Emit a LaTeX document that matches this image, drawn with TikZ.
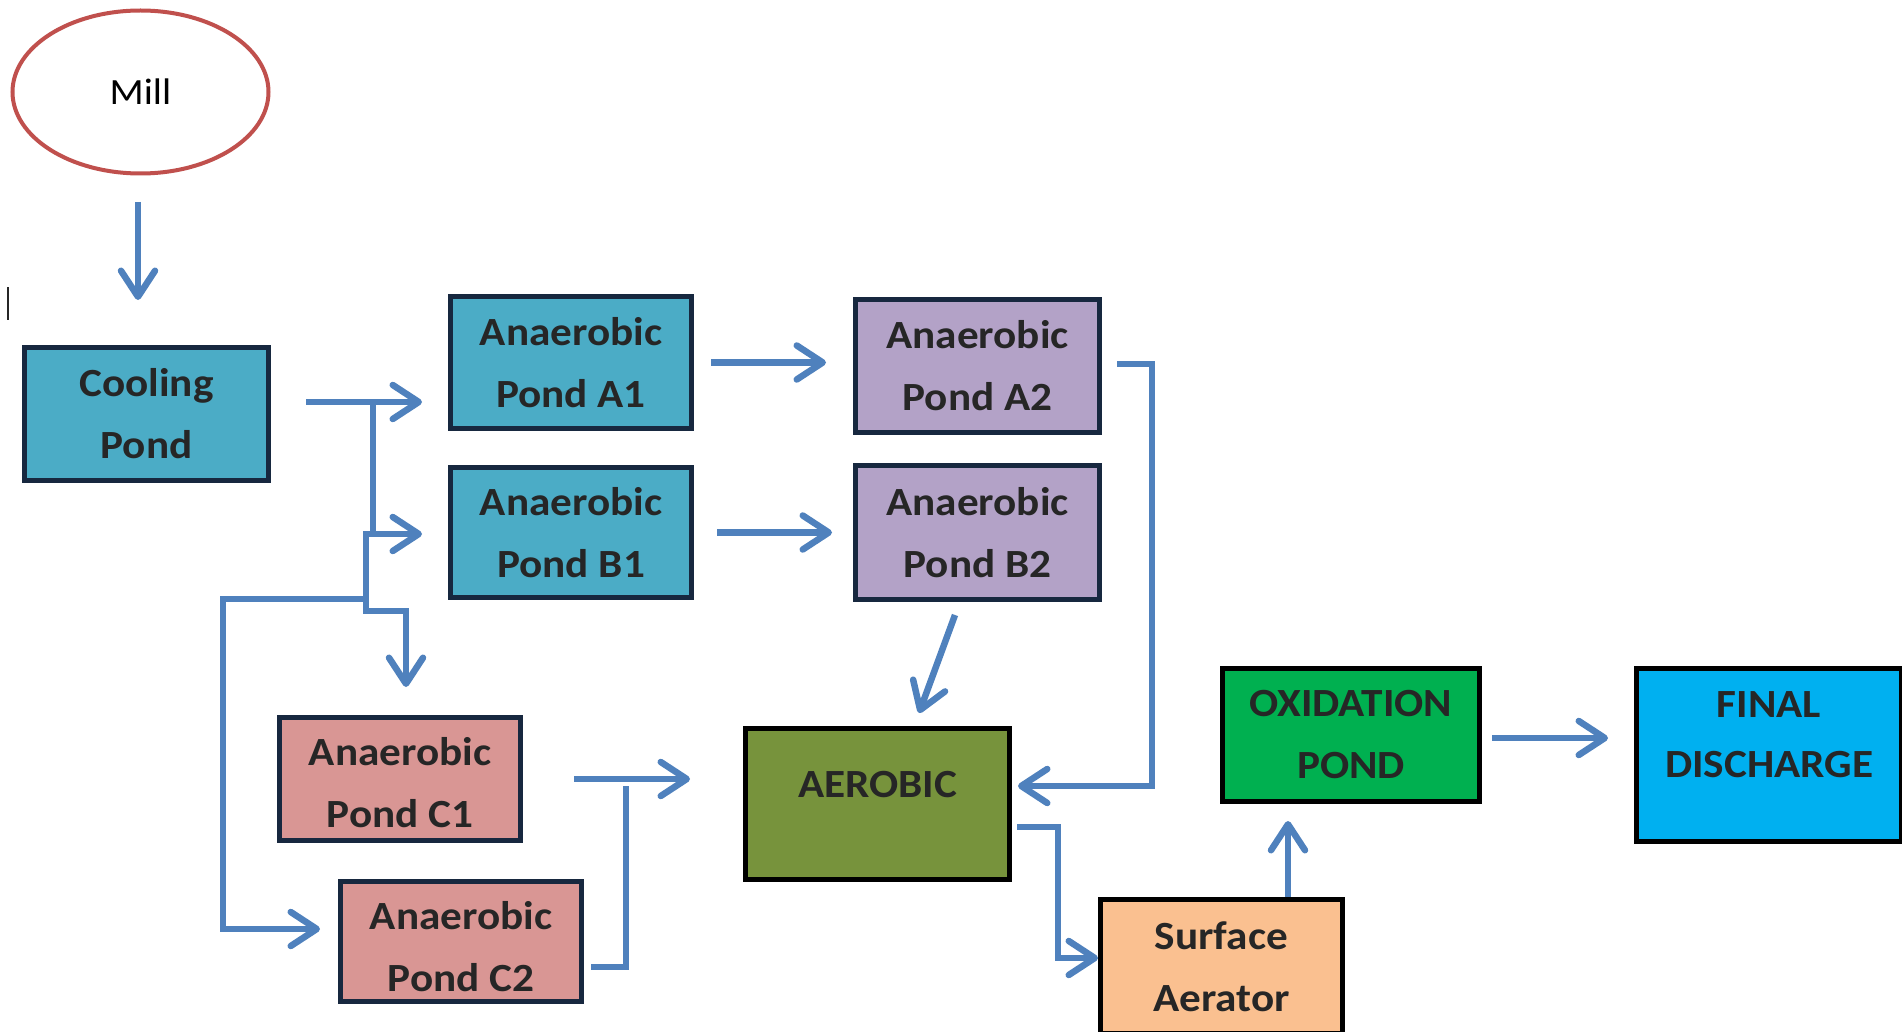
\documentclass[tikz,border=0pt]{standalone}
\usepackage{fontspec}
\setmainfont{Carlito}[FakeStretch=1.08]
\usetikzlibrary{arrows.meta,shapes.geometric,calc}
\definecolor{arrowblue}{HTML}{4F81BD}
\definecolor{navyline}{HTML}{17283F}
\definecolor{millred}{HTML}{C0504D}
\definecolor{txt}{HTML}{262626}
\definecolor{cyanbox}{HTML}{4BACC6}
\definecolor{purplebox}{HTML}{B3A2C7}
\definecolor{pinkbox}{HTML}{D99694}
\definecolor{olivebox}{HTML}{77933C}
\definecolor{peachbox}{HTML}{FAC090}
\definecolor{greenbox}{HTML}{00B050}
\definecolor{bluebox}{HTML}{00B0F0}
\begin{document}
\begin{tikzpicture}[x=1pt,y=-1pt,
  box/.style={rectangle, draw=navyline, line width=5pt, inner sep=0pt, align=center,
    text=txt, font=\fontsize{40}{62}\selectfont\bfseries},
  blackbox/.style={box, draw=black},
  pipe/.style={draw=arrowblue, line width=6.5pt, line join=miter},
  flow/.style={pipe, -{Straight Barb[length=26pt,width=34pt,line width=6.5pt,round]}}]
\useasboundingbox (0,0) rectangle (1902,1032);
\fill[white] (0,0) rectangle (1902,1032);

% nodes
\node[ellipse, draw=millred, fill=white, line width=4pt, minimum width=256pt, minimum height=163pt,
  inner sep=0pt, text=black, font=\fontsize{37}{44}\selectfont] (mill) at (140.5,92) {Mill};
\node[box, fill=cyanbox, minimum width=244pt, minimum height=133pt] (cool) at (146.5,414) {Cooling\\Pond};
\node[box, fill=cyanbox, minimum width=241pt, minimum height=132pt] (a1) at (571,362.5) {Anaerobic\\Pond A1};
\node[box, fill=cyanbox, minimum width=241pt, minimum height=130pt] (b1) at (571,532.5) {Anaerobic\\Pond B1};
\node[box, fill=purplebox, minimum width=244pt, minimum height=133pt] (a2) at (977.5,366) {Anaerobic\\Pond A2};
\node[box, fill=purplebox, minimum width=244pt, minimum height=134pt] (b2) at (977.5,532.5) {Anaerobic\\Pond B2};
\node[box, fill=pinkbox, minimum width=241pt, minimum height=123pt] (c1) at (400,779) {\rule{0pt}{35pt}Anaerobic\\Pond C1};
\node[box, fill=pinkbox, minimum width=241pt, minimum height=120pt] (c2) at (461,941.5) {\rule{0pt}{38pt}Anaerobic\\Pond C2};
\node[blackbox, fill=olivebox, minimum width=264pt, minimum height=151pt, text depth=40pt] (aer) at (877.5,804) {AEROBIC};
\node[blackbox, fill=peachbox, minimum width=242pt, minimum height=134pt] (sa) at (1221.5,966.5) {Surface\\Aerator};
\node[blackbox, fill=greenbox, minimum width=257pt, minimum height=133pt] (ox) at (1351,735) {OXIDATION\\POND};
\node[blackbox, fill=bluebox, minimum width=265pt, minimum height=173pt, text depth=40pt] (fin) at (1769,755) {FINAL\\[-2pt]DISCHARGE};

% text caret
\draw[line width=2pt, black!85] (8,287) -- (8,320);

% coordinates
\coordinate (m1) at (138,202);
\coordinate (s1) at (306,402);
\coordinate (j1) at (373,402);
\coordinate (j2) at (373,534);
\coordinate (j3) at (366,534);
\coordinate (j4) at (366,611);
\coordinate (j5) at (406,611);
\coordinate (j6) at (366,599);
\coordinate (j7) at (223,599);
\coordinate (j8) at (223,929);
\coordinate (r0) at (1117,364);
\coordinate (r1) at (1152,364);
\coordinate (r2) at (1152,786);
\coordinate (q1) at (626,786);
\coordinate (q2) at (626,967);
\coordinate (k1) at (1058,827);
\coordinate (k2) at (1058,958);
\coordinate (u1) at (1288,897);
\coordinate (v1) at (1492,738);

% connectors
\draw[flow, shorten >=45pt] (m1) -- (m1 |- cool.north);
\draw[flow, shorten >=26pt] (s1) -- (s1 -| a1.west);
\draw[flow, shorten >=26pt] (j1) -- (j2) -- (j2 -| b1.west);
\draw[flow, shorten >=28pt] (j2) -- (j3) -- (j4) -- (j5) -- (j5 |- c1.north);
\draw[flow, shorten >=18pt] (j6) -- (j7) -- (j8) -- (j8 -| c2.west);
\draw[flow, shorten <=17pt, shorten >=27pt] (a1.east) -- (a1.east -| a2.west);
\draw[flow, shorten <=23pt, shorten >=21pt] (b1.east) -- (b2.west);
\draw[flow, shorten >=6pt] (r0) -- (r1) -- (r2) -- (r2 -| aer.east);
\draw[flow] ($(b2.south)+(-22.5,13)$) -- ($(aer.north)+(41.5,-13)$);
\draw[flow, shorten <=51pt, shorten >=53pt] (c1.east) -- (c1.east -| aer.west);
\draw[pipe, shorten >=7pt] (q1) -- (q2) -- (q2 -| c2.east);
\draw[flow] ($(aer.east)+(5,23)$) -- (k1) -- (k2) -- (k2 -| sa.west);
\draw[flow, shorten >=17pt] (u1) -- (u1 |- ox.south);
\draw[flow, shorten >=26pt] (v1) -- (v1 -| fin.west);
\end{tikzpicture}
\end{document}
